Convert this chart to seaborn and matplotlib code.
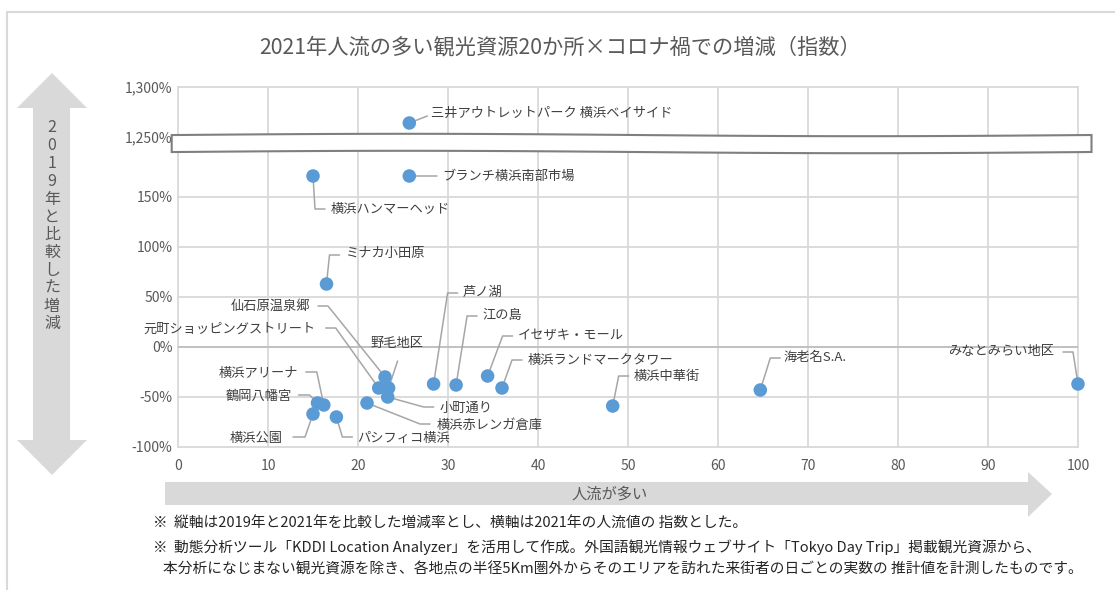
import numpy as np
import pandas as pd
import seaborn as sns
import matplotlib.pyplot as plt
from matplotlib.patches import Polygon, Rectangle
from matplotlib.transforms import IdentityTransform

# data
names = ['三井アウトレットパーク 横浜ベイサイド', 'ブランチ横浜南部市場', '横浜ハンマーヘッド',
         'ミナカ小田原', '芦ノ湖', '江の島', 'イセザキ・モール', '横浜ランドマークタワー',
         '横浜中華街', '海老名S.A.', 'みなとみらい地区', '野毛地区', '仙石原温泉郷',
         '元町ショッピングストリート', '小町通り', '横浜赤レンガ倉庫', '横浜アリーナ',
         '鶴岡八幡宮', '横浜公園', 'パシフィコ横浜']
flow_index = [25.7, 25.7, 15.0, 16.5, 28.4, 30.9, 34.4, 36.0, 48.3, 64.7, 100.0,
              23.4, 23.0, 22.3, 23.3, 21.0, 16.2, 15.5, 15.0, 17.6]
change_pct = [1264, 171, 171, 63, -37, -38, -29, -41, -59, -43, -37,
              -41, -30, -41, -50, -56, -58, -56, -67, -70]

y_ticks = [-100, -50, 0, 50, 100, 150, 1250, 1300]
x_ticks = list(range(0, 101, 10))

# broken axis: values above the break are shifted down
BREAK_FROM, BREAK_SHIFT = 1000, 1040


def to_axis(v):
    return v - BREAK_SHIFT if v >= BREAK_FROM else v


# label layout in pixels relative to the dot (elbow x, elbow y, end x, text x, text y, align)
label_layout = {
    '三井アウトレットパーク 横浜ベイサイド': (18, -7, 18, 22, -10, 'left'),
    'ブランチ横浜南部市場': (0, 0, 28, 33, 0, 'left'),
    '横浜ハンマーヘッド': (2, 33, 12, 18, 33, 'left'),
    'ミナカ小田原': (3, -29, 13, 19, -30, 'left'),
    '芦ノ湖': (14, -91, 24, 29, -92, 'left'),
    '江の島': (11, -69, 21, 26, -70, 'left'),
    'イセザキ・モール': (15, -40, 25, 30, -41, 'left'),
    '横浜ランドマークタワー': (10, -28, 20, 26, -28, 'left'),
    '横浜中華街': (6, -30, 16, 21, -30, 'left'),
    '海老名S.A.': (10, -32, 20, 23, -33, 'left'),
    'みなとみらい地区': (-5, -32, -15, -24, -33, 'right'),
    '野毛地区': (9, -27, 9, 8, -44, 'center'),
    '仙石原温泉郷': (-57, -71, -67, -75, -71, 'right'),
    '元町ショッピングストリート': (-43, -60, -53, -63, -59, 'right'),
    '小町通り': (36, 10, 46, 52, 11, 'left'),
    '横浜赤レンガ倉庫': (53, 21, 63, 70, 22, 'left'),
    '横浜アリーナ': (-7, -33, -18, -26, -32, 'right'),
    '鶴岡八幡宮': (-8, -8, -19, -26, -7, 'right'),
    '横浜公園': (-8, 23, -20, -30, 24, 'right'),
    'パシフィコ横浜': (6, 20, 16, 21, 21, 'left'),
}

df = pd.DataFrame({'name': names, 'x': flow_index, 'y': change_pct})
df['y_axis'] = df['y'].map(to_axis)

sns.set_theme(style='white')
plt.rcParams['font.family'] = ['Noto Sans CJK JP', 'DejaVu Sans']

W, H = 1115, 590
fig = plt.figure(figsize=(W / 100, H / 100), dpi=100)


def fx(px):
    return px / W


def fy(py):
    return 1 - py / H


# outer frame
fig.patches.append(Rectangle((fx(7), fy(600)), fx(1200), fy(12) - fy(600), transform=fig.transFigure,
                             fill=False, edgecolor='#d9d9d9', lw=1.5))

ax = fig.add_axes([fx(178), fy(447), fx(1078) - fx(178), fy(87) - fy(447)])
ax.set_xlim(0, 100)
ax.set_ylim(-100, 260)
ax.set_xticks(x_ticks)
ax.set_yticks([to_axis(v) for v in y_ticks])
ax.set_yticklabels([f'{v:,}%' for v in y_ticks])
ax.tick_params(length=0, labelsize=10, labelcolor='#595959')
ax.tick_params(axis='x', pad=9)
ax.tick_params(axis='y', pad=4)
ax.grid(True, color='#d9d9d9', lw=1.3)
for gl in ax.get_xgridlines() + ax.get_ygridlines():
    gl.set_clip_on(False)
for s in ax.spines.values():
    s.set_visible(False)
ax.axhline(0, color='#bfbfbf', lw=1.3, zorder=1)

# break band
bx = np.linspace(-0.7, 101.5, 200)
wave = 1.2 * np.sin(bx / 101.5 * 2 * np.pi)
top = 212 + wave
bot = 195 + wave
ax.add_patch(Polygon(np.column_stack([np.r_[bx, bx[::-1]], np.r_[top, bot[::-1]]]),
                     closed=True, facecolor='white', edgecolor='#7f7f7f', lw=1.5,
                     clip_on=False, zorder=2.5))

sns.scatterplot(data=df, x='x', y='y_axis', ax=ax, s=95, color='#5b9bd5',
                edgecolor='none', zorder=4, clip_on=False, legend=False)
ax.set_xlabel('')
ax.set_ylabel('')

fig.canvas.draw()
for _, r in df.iterrows():
    ex, ey, hx, tx, ty, ha = label_layout[r['name']]
    px, py = ax.transData.transform((r['x'], r['y_axis']))
    ax.plot([px, px + ex, px + hx], [py, py - ey, py - ey], color='#a6a6a6', lw=1.1,
            transform=IdentityTransform(), clip_on=False, zorder=3)
    ax.annotate(r['name'], xy=(r['x'], r['y_axis']), xytext=(tx, -ty), textcoords='offset pixels',
                ha=ha, va='center', fontsize=9.5, color='#404040', annotation_clip=False, zorder=5)

fig.text(fx(560), fy(47), '2021年人流の多い観光資源20か所×コロナ禍での増減（指数）',
         ha='center', va='center', fontsize=15.3, color='#595959')

# left arrow
left_arrow = [(52, 73), (87, 108), (70, 108), (70, 440), (87, 440), (52, 475),
              (17, 440), (33, 440), (33, 108), (17, 108)]
fig.patches.append(Polygon([(fx(a), fy(b)) for a, b in left_arrow], closed=True,
                           transform=fig.transFigure, facecolor='#d9d9d9', edgecolor='none'))
for i, ch in enumerate('2019年と比較した増減'):
    fig.text(fx(52), fy(128 + i * 17.8), ch, ha='center', va='center', fontsize=11.5, color='#595959')

# bottom arrow
bottom_arrow = [(165, 482), (1028, 482), (1028, 472), (1052, 494), (1028, 517), (1028, 505), (165, 505)]
fig.patches.append(Polygon([(fx(a), fy(b)) for a, b in bottom_arrow], closed=True,
                           transform=fig.transFigure, facecolor='#d9d9d9', edgecolor='none'))
fig.text(fx(610), fy(494), '人流が多い', ha='center', va='center', fontsize=11, color='#595959')

notes = [
    (153, 524, '※  縦軸は2019年と2021年を比較した増減率とし、横軸は2021年の人流値の 指数とした。'),
    (153, 547, '※  動態分析ツール「KDDI Location Analyzer」を活用して作成。外国語観光情報ウェブサイト「Tokyo Day Trip」掲載観光資源から、'),
    (163, 569, '本分析になじまない観光資源を除き、各地点の半径5Km圏外からそのエリアを訪れた来街者の日ごとの実数の 推計値を計測したものです。'),
]
for x0, y0, t in notes:
    fig.text(fx(x0), fy(y0), t, ha='left', va='center', fontsize=10.6, color='#262626')

fig.savefig('out.png', dpi=100)
